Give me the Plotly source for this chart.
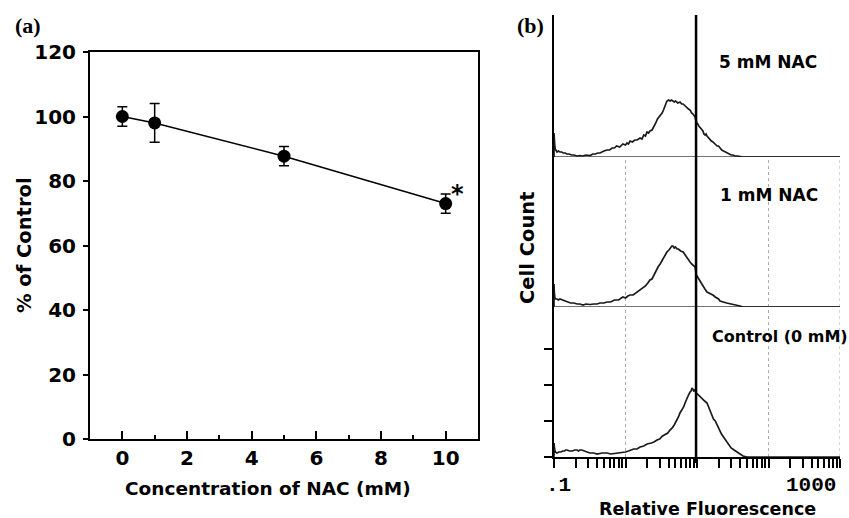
import plotly.graph_objects as go

# ---------------- Panel (a) data ----------------
conc_mM = [0, 1, 5, 10]
pct_control = [100, 98, 87.7, 73]
pct_err = [3, 6, 3, 3]
a_xticks = [0, 2, 4, 6, 8, 10]
a_xminor = [1, 3, 5, 7, 9]
a_yticks = [0, 20, 40, 60, 80, 100, 120]

# ---------------- Panel (b) data (histograms) ----------------
fl_5mM = [0.1, 0.1, 0.102, 0.104, 0.107, 0.11, 0.115, 0.121, 0.128, 0.135, 0.143, 0.152, 0.163,
          0.175, 0.19, 0.21, 0.23, 0.25, 0.28, 0.32, 0.35, 0.38, 0.41, 0.44, 0.5, 0.55, 0.6,
          0.65, 0.7, 0.75, 0.83, 0.92, 1.0, 1.05, 1.1, 1.16, 1.25, 1.35, 1.45, 1.6, 1.7, 1.8,
          1.9, 2.0, 2.1, 2.2, 2.35, 2.5, 2.65, 2.8, 2.95, 3.1, 3.25, 3.4, 3.6, 3.8, 4.0, 4.2,
          4.4, 4.6, 4.8, 5.0, 5.4, 5.8, 6.1, 6.4, 6.8, 7.2, 7.6, 8.0, 8.4, 8.8, 9.1, 9.4, 9.6,
          9.8, 10.0, 10.3, 10.6, 11.0, 11.5, 12.1, 12.5, 13.0, 13.4, 13.8, 14.5, 15.2, 15.9,
          16.7, 17.8, 19.1, 20, 21.0, 22.2, 23.5, 25, 26.3, 28, 30, 32, 34, 37, 40, 44, 100, 1000]
cnt_5mM = [0, 24, 14, 8, 6, 5, 6, 5, 5, 4, 4, 3, 3,
           2, 2, 1, 1.5, 1, 2, 1.5, 3, 3, 4, 4, 6, 7, 7,
           9, 9, 11, 10, 13, 12, 14, 13, 16, 15, 17, 17, 19, 18, 22,
           21, 25, 24, 26, 27, 30, 34, 38, 40, 43, 44, 47, 52, 56, 57, 56,
           57, 56, 55, 56, 54, 55, 53, 53, 51, 50, 48, 47, 44, 43, 41, 40, 37,
           36, 33, 33, 31, 30, 28, 26, 23, 22, 23, 21, 19, 18, 16,
           15, 13, 11, 11, 9, 7, 6, 5, 4, 3, 2, 2, 1, 1, 0.5, 0, 0, 0]

fl_1mM = [0.1, 0.1, 0.101, 0.103, 0.106, 0.11, 0.115, 0.121, 0.13, 0.14, 0.155, 0.17, 0.19,
          0.21, 0.23, 0.255, 0.28, 0.32, 0.36, 0.4, 0.44, 0.5, 0.55, 0.62, 0.7, 0.8, 0.92, 1.0,
          1.08, 1.16, 1.28, 1.4, 1.5, 1.6, 1.75, 1.9, 2.05, 2.2, 2.35, 2.5, 2.65, 2.85, 3.05,
          3.3, 3.55, 3.8, 4.05, 4.3, 4.45, 4.6, 4.8, 5.0, 5.25, 5.5, 5.9, 6.4, 6.8, 7.2, 7.6,
          8.0, 8.4, 8.8, 9.1, 9.4, 9.6, 9.8, 10.2, 10.6, 11.0, 11.5, 12.1, 12.9, 13.8, 14.8,
          15.8, 16.7, 18, 19.1, 20, 21.0, 23, 26, 30, 36, 40, 44, 1000]
cnt_1mM = [0, 23, 15, 9, 8, 8, 7, 8, 7, 6, 5, 4, 4,
           3, 3, 2, 3, 2.5, 3, 3, 4, 4, 5, 5, 7, 7, 10, 9,
           11, 12, 12, 14, 15, 17, 19, 21, 24, 27, 28, 32, 36, 40, 43,
           47, 52, 55, 57, 59, 61, 61, 59, 60, 58, 58, 56, 55, 52, 50, 47,
           45, 43, 42, 41, 40, 36, 32, 30, 28, 25, 24, 21, 18, 15, 14,
           13, 12, 10, 9, 8, 6, 5, 4, 3, 2, 1, 0, 0]

fl_ctrl = [0.1, 0.1, 0.102, 0.104, 0.107, 0.11, 0.117, 0.125, 0.132, 0.14, 0.146, 0.152, 0.165,
           0.18, 0.195, 0.21, 0.22, 0.231, 0.245, 0.26, 0.29, 0.32, 0.36, 0.4, 0.47, 0.55, 0.62,
           0.7, 0.8, 0.92, 1.0, 1.1, 1.2, 1.3, 1.45, 1.6, 1.8, 2.0, 2.3, 2.5, 2.76, 3.0, 3.3,
           3.6, 3.9, 4.19, 4.5, 4.8, 5.2, 5.5, 5.78, 6.1, 6.5, 6.9, 7.24, 7.6, 8.0, 8.25, 8.51,
           8.75, 9.0, 9.3, 9.7, 10.1, 10.5, 11.2, 12, 12.8, 13.8, 14.6, 15.5, 16.2, 17, 18,
           19.1, 20.5, 22, 24, 26.3, 28, 30, 33, 36.2, 40, 44, 50, 1000]
cnt_ctrl = [0, 14, 8, 5, 4, 4, 5, 5, 6, 6, 7, 7, 6,
            6, 7, 7, 6, 7, 7, 6, 5, 4, 4, 3, 4, 4, 3,
            3.5, 4, 5, 5, 6, 7, 8, 8, 10, 11, 13, 14, 15, 17, 18, 21,
            23, 24, 27, 29, 32, 36, 40, 44, 47, 50, 55, 59, 62, 65, 66, 69,
            67, 66, 67, 64, 63, 62, 60, 58, 56, 54, 50, 45, 42, 38, 36,
            32, 28, 23, 19, 15, 12, 9, 7, 5, 3, 1, 0, 0]

b_ticks = [0.1, 0.2, 0.3, 0.4, 0.5, 0.6, 0.7, 0.8, 0.9,
           1, 2, 3, 4, 5, 6, 7, 8, 9,
           10, 20, 30, 40, 50, 60, 70, 80, 90,
           100, 200, 300, 400, 500, 600, 700, 800, 900, 1000]
b_gate = 9.7
b_grid = [1, 100, 1000]
b_count_ticks = [0, 36, 72, 108]

W, H = 849, 518
def px(x):
    return x / W
def py(y):
    return 1 - y / H

BOLD = dict(family="DejaVu Sans", weight="bold", color="black")
LINE = "#1a1a1a"

fig = go.Figure()

# Panel (a)
fig.add_trace(go.Scatter(
    x=conc_mM, y=pct_control, mode="lines+markers",
    line=dict(color="black", width=1.5),
    marker=dict(color="black", size=13),
    error_y=dict(type="data", array=pct_err, color="black", thickness=1.5, width=5),
    xaxis="x", yaxis="y", showlegend=False))

# Panel (b) histograms
for xs, ys, ya in [(fl_ctrl, cnt_ctrl, "y2"), (fl_1mM, cnt_1mM, "y3"), (fl_5mM, cnt_5mM, "y4")]:
    fig.add_trace(go.Scatter(x=xs, y=ys, mode="lines", line=dict(color=LINE, width=1.7),
                             xaxis="x2", yaxis=ya, showlegend=False))

common = dict(automargin=False, showgrid=False, zeroline=False)

fig.update_layout(
    width=W, height=H, autosize=False,
    margin=dict(l=0, r=0, t=0, b=0, pad=0, autoexpand=False),
    paper_bgcolor="white", plot_bgcolor="white",
    xaxis=dict(domain=[px(90), px(478)], range=[-1, 11], anchor="y",
               tickvals=a_xticks, ticks="inside", ticklen=8, tickwidth=1.5, tickcolor="black",
               minor=dict(tickvals=a_xminor, ticks="inside", ticklen=4, tickwidth=1.5,
                          tickcolor="black", showgrid=False),
               showline=True, linecolor="black", linewidth=2, mirror=True,
               tickfont=dict(size=20, **BOLD), ticklabelstandoff=0, **common),
    yaxis=dict(domain=[py(439), py(52)], range=[0, 120], anchor="x",
               tickvals=a_yticks, ticks="outside", ticklen=5, tickwidth=1.5, tickcolor="black",
               showline=True, linecolor="black", linewidth=2, mirror=True,
               tickfont=dict(size=20, **BOLD), ticklabelstandoff=3, **common),
    xaxis2=dict(domain=[px(554), px(840)], type="log", range=[-1, 3], anchor="y2",
                tickvals=b_ticks, ticktext=[""] * len(b_ticks),
                ticks="outside", ticklen=9, tickwidth=1.5, tickcolor="black",
                showline=True, linecolor="black", linewidth=2, **common),
    yaxis2=dict(domain=[py(457), py(307)], range=[0, 150], anchor="x2",
                tickvals=b_count_ticks, ticktext=[""] * 4, ticks="outside", ticklen=8,
                tickwidth=1.5, tickcolor="black",
                showline=True, linecolor="black", linewidth=2, **common),
    yaxis3=dict(domain=[py(307), py(157)], range=[0, 150], anchor="x2",
                showticklabels=False, ticks="",
                showline=True, linecolor="black", linewidth=2, **common),
    yaxis4=dict(domain=[py(157), py(15)], range=[0, 142], anchor="x2",
                showticklabels=False, ticks="",
                showline=True, linecolor="black", linewidth=2, **common),
)

shapes = []
for ya in ["y3", "y4"]:
    shapes.append(dict(type="line", xref="x2 domain", x0=0, x1=1, yref=ya, y0=0, y1=0,
                       line=dict(color="#444444", width=1.5), layer="below"))
for g in b_grid:
    shapes.append(dict(type="line", xref="x2", x0=g, x1=g, yref="paper", y0=py(457), y1=py(157),
                       line=dict(color="#aaaaaa", width=1, dash="dot"), layer="below"))
shapes.append(dict(type="line", xref="x2", x0=b_gate, x1=b_gate, yref="paper",
                   y0=py(463), y1=py(15), line=dict(color="black", width=2.5)))
fig.update_layout(shapes=shapes)

ann = []
def text(t, x, y, size, font=None, xa="center", ya="middle", angle=0):
    f = dict(size=size, **(font or BOLD))
    ann.append(dict(text=t, x=px(x), y=py(y), xref="paper", yref="paper", showarrow=False,
                    xanchor=xa, yanchor=ya, textangle=angle, font=f))

SERIF = dict(family="Liberation Serif", weight="bold", color="black")
MONO = dict(family="Liberation Mono", weight="bold", color="black")
text("(a)", 13, 25, 22, SERIF, xa="left")
text("(b)", 515, 25, 22, SERIF, xa="left")
text("% of Control", 24, 245, 19.5, angle=-90)
text("Concentration of NAC (mM)", 268, 488, 18.5)
text("*", 457, 194, 24)
text("5 mM NAC", 717, 62, 17, xa="left")
text("1 mM NAC", 718, 195, 17, xa="left")
text("Control (0 mM)", 710, 336, 16, xa="left")
text("Cell Count", 528, 248, 19.5, angle=-90)
text("Relative Fluorescence", 707, 509, 17.5)
text(".1", 558, 485, 21, MONO)
text("1000", 838, 485, 21, MONO, xa="right")
fig.update_layout(annotations=ann)

fig.write_html("out.html")
